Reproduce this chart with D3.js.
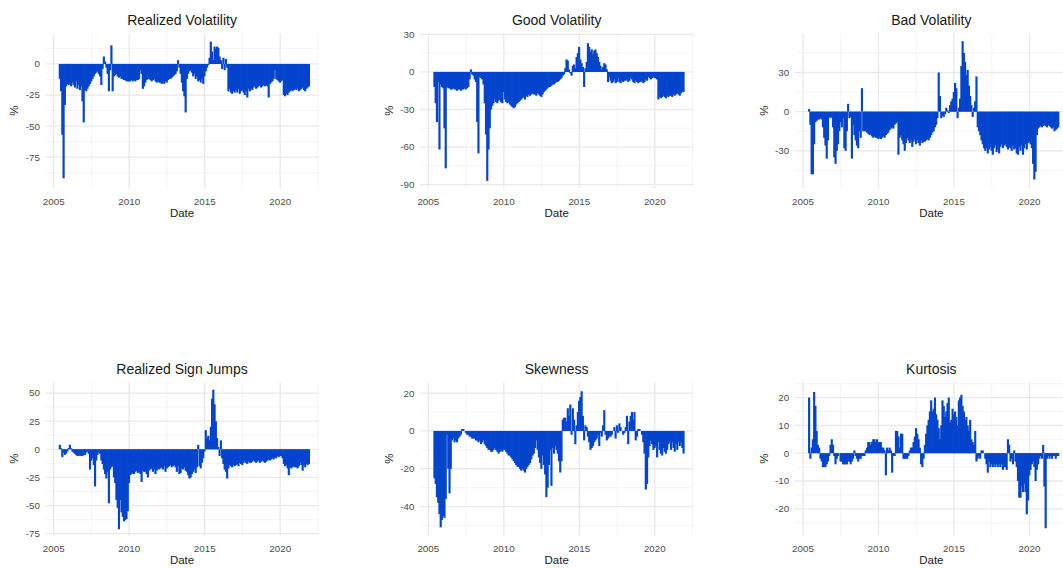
<!DOCTYPE html>
<html>
<head>
<meta charset="utf-8">
<script src="https://cdn.jsdelivr.net/npm/d3@7"></script>
<style>
  body { margin: 0; background: #ffffff; }
  svg { display: block; font-family: "Liberation Sans", Arial, sans-serif; }
</style>
</head>
<body>
<svg id="chart" width="1063" height="568"></svg>
<script>
// Monthly observations, May 2005 through November 2021 (one value per month).
const firstMonth = { year: 2005, month: 5 };

const xTickYears = [2005, 2010, 2015, 2020];
const xMinorYears = [2007.5, 2012.5, 2017.5, 2022.5];

const realizedVolatility = [
  -12, -22, -57, -92, -33, -18, -16, -17,                      // 2005
  -16, -18, -15, -17, -19, -14, -20, -17, -21, -18, -30, -47,  // 2006
  -21, -22, -20, -18, -16, -14, -12, -10, -8, -7, -6, -8,      // 2007
  -10, -17, -4, 6, 2, -3, -8, -22, -5, 15, -22, -10,           // 2008
  -9, -8, -10, -11, -10, -12, -12, -13, -13, -14, -14, -14,    // 2009
  -14, -13, -14, -13, -14, -13, -13, -12, -5, -8, -20, -18,    // 2010
  -15, -13, -12, -12, -13, -14, -13, -12, -14, -15, -14, -15,  // 2011
  -15, -16, -15, -16, -14, -15, -13, -12, -12, -11, -10, -9,   // 2012
  -8, -6, 3, -3, -8, -15, -22, -26, -39, -12, -8, -6,          // 2013
  -5, -7, -10, -8, -12, -10, -14, -13, -15, -12, -16, -10,     // 2014
  -6, -3, -1, 5, 18, 10, 3, 14, 12, 14, 13, 6,                 // 2015
  3, -4, 5, -5, 4, -3, -22, -20, -23, -24, -22, -23,           // 2016
  -21, -23, -20, -24, -22, -21, -23, -25, -22, -27, -20, -22,  // 2017
  -20, -21, -19, -18, -20, -19, -18, -17, -19, -18, -17, -18,  // 2018
  -17, -18, -27, -16, -15, -14, -12, -5, -12, -13, -14, -15,   // 2019
  -14, -13, -25, -26, -24, -25, -23, -22, -21, -22, -21, -20,  // 2020
  -21, -20, -22, -21, -20, -19, -21, -22, -20, -19, -18        // 2021
];

const goodVolatility = [
  -12, -25, -40, -8, -62, -10, -12, -13,                       // 2005
  -45, -77, -12, -13, -13, -14, -14, -13, -14, -14, -15, -14,  // 2006
  -14, -15, -14, -14, -13, -14, -13, -12, -6, 2, -2, -3,       // 2007
  -6, -8, -40, -65, -4, -5, -6, -10, -25, -50, -87, -62,       // 2008
  -45, -30, -27, -25, -22, -24, -25, -23, -22, -24, -25, -16,  // 2009
  -22, -24, -25, -24, -26, -27, -28, -29, -28, -26, -25, -24,  // 2010
  -23, -22, -21, -20, -22, -19, -20, -18, -19, -18, -17, -18,  // 2011
  -18, -19, -17, -18, -19, -20, -18, -16, -15, -14, -13, -12,  // 2012
  -12, -11, -10, -10, -9, -8, -8, -7, -6, -5, -3, -2,          // 2013
  3, 10, 9, 2, -1, -3, 5, 6, 3, 12, 15, 20,                    // 2014
  10, 7, 4, -12, 3, 8, 23, 20, 16, 18, 14, 17,                 // 2015
  18, 15, 12, 8, 5, 2, 4, 7, 6, 2, -8, -4,                     // 2016
  -7, -9, -8, -6, -9, -8, -5, -8, -9, -7, -8, -7,              // 2017
  -7, -6, -8, -7, -5, -6, -8, -9, -7, -8, -9, -8,              // 2018
  -8, -7, -9, -8, -6, -7, -4, -5, -6, -5, -4, -5,              // 2019
  -5, -6, -22, -20, -21, -20, -19, -20, -21, -19, -20, -19,    // 2020
  -19, -20, -18, -19, -18, -17, -18, -19, -17, -16, -16        // 2021
];

const badVolatility = [
  2, -10, -48, -48, -25, -8, -7, -6,                           // 2005
  -6, -5, -6, -12, -20, -26, -36, -22, -4, -5, -4, -12,        // 2006
  -35, -40, -30, -25, -15, -8, -12, -5, -28, -30, -15, 6,      // 2007
  -5, -4, -36, -10, -18, -22, -26, -28, -15, -20, 18, -15,     // 2008
  -15, -15, -16, -17, -18, -17, -19, -20, -19, -20, -20, -21,  // 2009
  -20, -21, -20, -19, -20, -18, -17, -16, -14, -13, -12, -13,  // 2010
  -10, -9, -8, -33, -20, -18, -22, -25, -30, -24, -20, -22,    // 2011
  -24, -22, -27, -23, -21, -25, -22, -24, -26, -22, -24, -23,  // 2012
  -23, -22, -21, -22, -20, -18, -16, -15, -12, -10, -5, 30,    // 2013
  12, -5, -3, -4, -2, 3, 1, -1, 5, 8, 10, 15,                  // 2014
  22, 18, -5, 3, 10, 35, 54, 45, 38, 28, 32, 20,               // 2015
  12, 5, -4, 3, 8, 27, -12, -15, -18, -22, -25, -28,           // 2016
  -30, -28, -32, -29, -27, -30, -33, -28, -26, -31, -29, -32,  // 2017
  -27, -25, -28, -26, -25, -27, -29, -27, -28, -30, -26, -29,  // 2018
  -28, -32, -33, -27, -30, -26, -33, -28, -25, -29, -24, -23,  // 2019
  -25, -28, -40, -52, -46, -18, -13, -12, -11, -12, -11, -10,  // 2020
  -11, -12, -10, -11, -12, -13, -12, -15, -14, -13, -12        // 2021
];

const realizedSignJumps = [
  4, 1, -7, -3, -5, -4, -2, 1,                                 // 2005
  4, 1, -2, -3, -4, -5, -6, -6, -5, -6, -6, -5,                // 2006
  -5, -3, -2, -4, -18, -10, -8, -14, -33, -10, -5, -3,         // 2007
  -4, -10, -13, -18, -22, -26, -20, -48, -18, -16, -15, -25,   // 2008
  -30, -45, -52, -71, -45, -56, -60, -64, -63, -62, -55, -30,  // 2009
  -23, -22, -21, -22, -20, -19, -21, -20, -22, -29, -19, -20,  // 2010
  -20, -22, -25, -19, -18, -17, -20, -18, -22, -19, -17, -18,  // 2011
  -17, -16, -18, -15, -20, -17, -16, -15, -14, -16, -15, -14,  // 2012
  -16, -20, -15, -22, -21, -17, -18, -16, -19, -20, -23, -26,  // 2013
  -25, -22, -20, -18, -21, -16, 4, -15, -17, -12, -8, -2,      // 2014
  17, 10, 12, 8, 20, 45, 53, 40, 25, 10, 2, -6,                // 2015
  8, -8, -13, -18, -20, -26, -17, -14, -15, -16, -14, -15,     // 2016
  -14, -13, -15, -12, -13, -14, -12, -11, -12, -13, -11, -12,  // 2017
  -12, -11, -10, -11, -12, -11, -10, -12, -11, -10, -11, -12,  // 2018
  -11, -10, -9, -10, -9, -8, -9, -7, -8, -6, -7, -6,           // 2019
  -6, -8, -13, -15, -14, -17, -23, -16, -17, -16, -15, -16,    // 2020
  -16, -17, -15, -12, -14, -19, -14, -16, -13, -14, -13        // 2021
];

const skewness = [
  -25, -28, -35, -38, -44, -51, -47, -45,                      // 2005
  -46, -36, -2, -20, -33, -20, -5, -4, -6, -5, -6, -4,         // 2006
  -3, -2, 1, 1, 0, -1, -2, -2, -3, -3, -4, -4,                 // 2007
  -4, -5, -5, -6, -5, -7, -6, -5, -7, -8, -9, -10,             // 2008
  -10, -11, -11, -10, -9, -10, -11, -12, -11, -10, -11, -10,   // 2009
  -10, -11, -12, -13, -13, -14, -15, -16, -17, -18, -19, -19,  // 2010
  -20, -21, -20, -21, -22, -20, -19, -18, -17, -15, -13, -12,  // 2011
  -9, -5, -10, -14, -17, -20, -13, -18, -23, -35, -30, -18,    // 2012
  -10, -29, -9, -12, -8, -10, -12, -16, -22, -16, 6, 7,        // 2013
  7, 5, 12, 8, 14, -2, 12, 6, -7, 3, 10, 16,                   // 2014
  18, 21, 8, -5, 3, 2, -3, -6, -10, -9, -8, -6,                // 2015
  -5, -4, -2, -8, -1, -3, 3, 11, -2, -5, -4, -3,               // 2016
  -3, -2, 0, 2, -4, 3, -1, 4, 2, 0, -2, -1,                    // 2017
  2, 8, -7, 5, 8, 10, 6, 10, -5, -3, 1, 1,                     // 2018
  0, -2, -6, -12, -31, -28, -14, -8, -5, -7, -10, -9,          // 2019
  -8, -14, -6, -10, -12, -13, -9, -11, -12, -10, -7, -6,       // 2020
  -10, -6, -9, -11, -7, -10, -6, -8, -6, -9, -12               // 2021
];

const kurtosis = [
  20, -2, 2, 5, 22, 17, 8, 3,                                  // 2005
  2, -2, -3, -5, -5, -5, -4, -3, -1, 3, 5, 3,                  // 2006
  -1, -4, -2, -1, 0, -3, -3, -4, -4, -4, -4, -3,               // 2007
  -3, -4, -3, -2, 1, -1, -2, -3, -2, -2, -1, -1,               // 2008
  -1, 1, 2, 4, 4, 3, 4, 5, 5, 4, 5, 4,                         // 2009
  4, 4, 2, 2, 1, -8, 2, 1, 2, 1, -7, -1,                       // 2010
  -1, 8, 8, 6, 2, 7, 7, -2, -2, -2, -2, -1,                    // 2011
  1, 2, 2, 4, 6, 9, 7, 5, 2, -4, -5, -2,                       // 2012
  3, 7, 10, 12, 15, 19, 15, 16, 20, 14, 12, 9,                 // 2013
  5, 10, 19, 17, 13, 15, 18, 20, 11, 12, 16, 14,               // 2014
  15, 13, 10, 19, 20, 21, 17, 15, 12, 13, 10, 8,               // 2015
  12, 5, 4, 3, 8, -3, -2, -1, -2, 1, 1, 0,                     // 2016
  -2, -4, -7, -3, -5, -4, -5, -4, -5, -4, -5, -4,              // 2017
  -5, -4, -6, -5, -5, -6, 5, 3, -3, -2, -4, 1,                 // 2018
  -3, -5, -10, -16, -16, -12, -14, -11, -14, -22, -17, -8,     // 2019
  -6, -4, -3, -5, -10, -6, -4, -2, -1, -2, 3, -12,             // 2020
  -27, -2, -1, -2, -1, -2, -1, -1, -2, -1, -1                  // 2021
];

const panelTitles = ["Realized Volatility", "Good Volatility", "Bad Volatility",
                     "Realized Sign Jumps", "Skewness", "Kurtosis"];
const panelSeries = [realizedVolatility, goodVolatility, badVolatility,
                     realizedSignJumps, skewness, kurtosis];
const panelYTicks = [
  [-75, -50, -25, 0],
  [-90, -60, -30, 0, 30],
  [-30, 0, 30],
  [-75, -50, -25, 0, 25, 50],
  [-40, -20, 0, 20],
  [-20, -10, 0, 10, 20]
];
const panelYDomains = [
  [-99.8, 24.5],
  [-92.7, 30.7],
  [-58.5, 59.9],
  [-76.6, 59.8],
  [-55.3, 25.9],
  [-29.6, 25.6]
];

// ---- layout ----
const xDomain = [2004.45, 2022.55];
const panelWidth = 273.3;
const colLeft = [45.4, 420.0, 794.7];
const rowTop = [33.5, 382];
const rowHeight = [154.5, 153.5];

const barColor = "#0545cd";
const gridMajor = "#e9e9e9";
const gridMinor = "#f2f2f2";

const svg = d3.select("#chart");

const monthPos = (i) => firstMonth.year + (firstMonth.month - 1 + i) / 12;

// Minor breaks sit halfway between neighbouring major breaks, and one step beyond each end.
function minorBreaks(ticks, domain) {
  const step = ticks[1] - ticks[0];
  const out = [];
  for (let v = ticks[0] - step / 2; v <= ticks[ticks.length - 1] + step / 2 + 1e-9; v += step) {
    if (v >= domain[0] && v <= domain[1]) out.push(v);
  }
  return out;
}

panelTitles.forEach((title, p) => {
  const col = p % 3, row = Math.floor(p / 3);
  const left = colLeft[col], top = rowTop[row], h = rowHeight[row];
  const values = panelSeries[p];

  const x = d3.scaleLinear().domain(xDomain).range([left, left + panelWidth]);
  const y = d3.scaleLinear().domain(panelYDomains[p]).range([top + h, top]);

  const g = svg.append("g");

  // grid
  const grid = g.append("g");
  grid.selectAll("line.ymin").data(minorBreaks(panelYTicks[p], panelYDomains[p])).join("line")
    .attr("x1", left).attr("x2", left + panelWidth)
    .attr("y1", d => y(d)).attr("y2", d => y(d))
    .attr("stroke", gridMinor).attr("stroke-width", 0.8);
  grid.selectAll("line.xmin").data(xMinorYears.filter(v => v >= xDomain[0] && v <= xDomain[1])).join("line")
    .attr("x1", d => x(d)).attr("x2", d => x(d))
    .attr("y1", top).attr("y2", top + h)
    .attr("stroke", gridMinor).attr("stroke-width", 0.8);
  grid.selectAll("line.ymaj").data(panelYTicks[p]).join("line")
    .attr("x1", left).attr("x2", left + panelWidth)
    .attr("y1", d => y(d)).attr("y2", d => y(d))
    .attr("stroke", gridMajor).attr("stroke-width", 1.3);
  grid.selectAll("line.xmaj").data(xTickYears).join("line")
    .attr("x1", d => x(d)).attr("x2", d => x(d))
    .attr("y1", top).attr("y2", top + h)
    .attr("stroke", gridMajor).attr("stroke-width", 1.3);

  // monthly bars from zero; each bar runs slightly under its neighbour so no seams show
  g.append("g")
    .selectAll("rect").data(values).join("rect")
    .attr("x", (d, i) => x(monthPos(i)))
    .attr("width", (d, i) => x(monthPos(i + 1)) - x(monthPos(i)) + 0.9)
    .attr("y", d => y(Math.max(0, d)))
    .attr("height", d => Math.abs(y(d) - y(0)))
    .attr("fill", barColor);

  // x axis labels
  g.append("g").selectAll("text").data(xTickYears).join("text")
    .attr("x", d => x(d)).attr("y", top + h + 16.5)
    .attr("text-anchor", "middle")
    .attr("font-size", 9.8).attr("fill", "#4d4d4d")
    .text(d => d);

  // y axis labels
  g.append("g").selectAll("text").data(panelYTicks[p]).join("text")
    .attr("x", left - 5.5).attr("y", d => y(d))
    .attr("dy", "0.35em")
    .attr("text-anchor", "end")
    .attr("font-size", 9.8).attr("fill", "#4d4d4d")
    .text(d => d);

  // titles
  g.append("text")
    .attr("x", left + panelWidth / 2).attr("y", top - 8.5)
    .attr("text-anchor", "middle")
    .attr("font-size", 14).attr("fill", "#1a1a1a")
    .text(title);

  g.append("text")
    .attr("x", left + panelWidth / 2).attr("y", top + h + 28.5)
    .attr("text-anchor", "middle")
    .attr("font-size", 11.5).attr("fill", "#1a1a1a")
    .text("Date");

  g.append("text")
    .attr("transform", `translate(${left - 27},${top + h / 2}) rotate(-90)`)
    .attr("text-anchor", "middle")
    .attr("font-size", 11.5).attr("fill", "#1a1a1a")
    .text("%");
});
</script>
</body>
</html>
